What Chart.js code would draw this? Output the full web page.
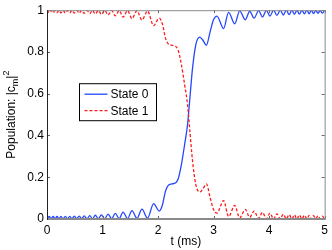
<!DOCTYPE html>
<html>
<head>
<meta charset="utf-8">
<script src="https://cdn.jsdelivr.net/npm/chart.js@4.4.0/dist/chart.umd.min.js"></script>
<style>
  html, body { margin: 0; padding: 0; background: #fff; }
</style>
</head>
<body>
<canvas id="popChart" width="332" height="250"></canvas>
<script>
// time axis (ms) at peaks / troughs
const tMs = [
  0, 0.04, 0.075, 0.11, 0.145, 0.18, 0.215, 0.25, 0.29, 0.33,
  0.37, 0.41, 0.45, 0.49, 0.535, 0.58, 0.625, 0.67, 0.72, 0.77,
  0.82, 0.87, 0.925, 0.98, 1.04, 1.10, 1.165, 1.23, 1.30, 1.37,
  1.45, 1.53, 1.62, 1.71, 1.81, 1.92, 2.02, 2.08, 2.13, 2.18,
  2.25, 2.31, 2.36, 2.42, 2.48, 2.53, 2.57, 2.62, 2.68, 2.75,
  2.81, 2.87, 2.94, 3.00, 3.06, 3.18, 3.27, 3.38, 3.47, 3.57,
  3.65, 3.73, 3.81, 3.88, 3.95, 4.015, 4.08, 4.14, 4.2, 4.255,
  4.31, 4.36, 4.41, 4.455, 4.5, 4.545, 4.59, 4.635, 4.68, 4.72,
  4.76, 4.80, 4.84, 4.88, 4.92, 4.955, 5.0
];

const state0 = [
  0.000, 0.012, 0.001, 0.012, 0.001, 0.012, 0.001, 0.013, 0.001, 0.013,
  0.001, 0.013, 0.001, 0.014, 0.001, 0.014, 0.001, 0.015, 0.001, 0.016,
  0.001, 0.018, 0.001, 0.020, 0.001, 0.023, 0.002, 0.027, 0.002, 0.033,
  0.002, 0.040, 0.003, 0.047, 0.004, 0.074, 0.038, 0.068, 0.130, 0.160,
  0.168, 0.172, 0.190, 0.26, 0.36, 0.45, 0.57, 0.72, 0.835, 0.871,
  0.855, 0.832, 0.90, 0.955, 0.972, 0.912, 0.990, 0.935, 0.997, 0.954,
  0.995, 0.962, 0.998, 0.968, 0.999, 0.972, 1.0, 0.975, 1.0, 0.977,
  1.0, 0.979, 1.0, 0.98, 1.0, 0.981, 1.0, 0.982, 1.0, 0.983,
  1.0, 0.984, 0.999, 0.985, 0.999, 0.986, 0.999
];

const state1 = [
  1.000, 0.988, 0.999, 0.988, 0.999, 0.988, 0.999, 0.987, 0.999, 0.987,
  0.999, 0.987, 0.999, 0.986, 0.999, 0.986, 0.999, 0.985, 0.999, 0.984,
  0.999, 0.982, 0.999, 0.980, 0.999, 0.977, 0.998, 0.973, 0.998, 0.967,
  0.998, 0.960, 0.997, 0.953, 0.996, 0.926, 0.962, 0.932, 0.870, 0.840,
  0.832, 0.828, 0.810, 0.74, 0.64, 0.55, 0.43, 0.28, 0.165, 0.129,
  0.145, 0.168, 0.10, 0.045, 0.028, 0.088, 0.012, 0.065, 0.005, 0.046,
  0.008, 0.038, 0.003, 0.032, 0.001, 0.028, 0.0, 0.025, 0.0, 0.023,
  0.0, 0.021, 0.0, 0.02, 0.0, 0.019, 0.0, 0.018, 0.0, 0.017,
  0.0, 0.016, 0.001, 0.015, 0.001, 0.014, 0.001
];

const xTicks = [0, 1, 2, 3, 4, 5];
const yTicks = [0, 0.2, 0.4, 0.6, 0.8, 1];
const seriesNames = ['State 0', 'State 1'];

const FONT = 'Liberation Sans, Arial, Helvetica, sans-serif';

// box, inward ticks, y title with sub/superscript, legend
const matlabLook = {
  id: 'matlabLook',
  afterDraw(chart) {
    const { ctx, chartArea: a, scales: { x, y } } = chart;
    ctx.save();

    // inward tick marks on all four sides
    ctx.strokeStyle = '#666';
    ctx.lineWidth = 1;
    ctx.beginPath();
    xTicks.forEach(v => {
      const px = Math.round(x.getPixelForValue(v)) + 0.5;
      ctx.moveTo(px, a.bottom); ctx.lineTo(px, a.bottom - 3);
      ctx.moveTo(px, a.top); ctx.lineTo(px, a.top + 3);
    });
    yTicks.forEach(v => {
      const py = Math.round(y.getPixelForValue(v)) + 0.5;
      ctx.moveTo(a.left, py); ctx.lineTo(a.left + 3, py);
      ctx.moveTo(a.right, py); ctx.lineTo(a.right - 3, py);
    });
    ctx.stroke();

    // frame
    ctx.strokeStyle = '#8a8a8a';
    ctx.beginPath();
    ctx.moveTo(a.left, a.top + 0.5); ctx.lineTo(a.right + 0.5, a.top + 0.5);
    ctx.lineTo(a.right + 0.5, a.bottom);
    ctx.stroke();
    ctx.lineWidth = 2;
    ctx.beginPath();
    ctx.moveTo(a.left, a.bottom); ctx.lineTo(a.right + 1, a.bottom);
    ctx.stroke();
    ctx.strokeStyle = '#222';
    ctx.lineWidth = 1;
    ctx.beginPath();
    ctx.moveTo(a.left + 0.5, a.top); ctx.lineTo(a.left + 0.5, a.bottom + 1);
    ctx.stroke();

    // y axis title: Population: |c_m|^2
    const big = '12px ' + FONT, small = '9px ' + FONT;
    const parts = [
      { s: 'Population: |c', f: big, dy: 0 },
      { s: 'm', f: small, dy: 3 },
      { s: '|', f: big, dy: 0 },
      { s: '2', f: small, dy: -6 }
    ];
    let total = 0;
    parts.forEach(p => { ctx.font = p.f; p.w = ctx.measureText(p.s).width; total += p.w; });
    ctx.translate(15, (a.top + a.bottom) / 2);
    ctx.rotate(-Math.PI / 2);
    ctx.fillStyle = '#000';
    ctx.textBaseline = 'alphabetic';
    let cx = -total / 2;
    parts.forEach(p => { ctx.font = p.f; ctx.fillText(p.s, cx, p.dy); cx += p.w; });
    ctx.setTransform(1, 0, 0, 1, 0, 0);

    // legend
    const lx = a.left + 32.5, ly = a.top + 73.5, lw = 77, lh = 37;
    ctx.fillStyle = '#fff';
    ctx.fillRect(lx, ly, lw, lh);
    ctx.strokeStyle = '#000';
    ctx.lineWidth = 1;
    ctx.strokeRect(lx, ly, lw, lh);
    ctx.font = '12px ' + FONT;
    ctx.textBaseline = 'middle';
    chart.data.datasets.forEach((ds, i) => {
      const rowY = ly + 10.5 + i * 16.5;
      ctx.strokeStyle = ds.borderColor;
      ctx.lineWidth = ds.borderWidth;
      ctx.setLineDash(ds.borderDash || []);
      ctx.beginPath();
      ctx.moveTo(lx + 5, rowY); ctx.lineTo(lx + 28, rowY);
      ctx.stroke();
      ctx.setLineDash([]);
      ctx.fillStyle = '#000';
      ctx.fillText(ds.label, lx + 31, rowY + 0.5);
    });
    ctx.restore();
  }
};

new Chart(document.getElementById('popChart'), {
  type: 'line',
  data: {
    datasets: [{
      label: seriesNames[0],
      data: tMs.map((t, i) => ({ x: t, y: state0[i] })),
      borderColor: '#2447ff',
      borderWidth: 1.3,
      pointRadius: 0,
      cubicInterpolationMode: 'monotone',
      fill: false,
      order: 1
    }, {
      label: seriesNames[1],
      data: tMs.map((t, i) => ({ x: t, y: state1[i] })),
      borderColor: '#ff1a1a',
      borderWidth: 1.3,
      borderDash: [3, 2],
      pointRadius: 0,
      cubicInterpolationMode: 'monotone',
      fill: false,
      order: 0
    }]
  },
  options: {
    responsive: false,
    animation: false,
    events: [],
    layout: { padding: { top: 7, right: 4, left: 0, bottom: 0 } },
    plugins: {
      legend: { display: false },
      tooltip: { enabled: false }
    },
    scales: {
      x: {
        type: 'linear',
        min: 0,
        max: 5,
        afterBuildTicks: s => { s.ticks = xTicks.map(v => ({ value: v })); },
        afterFit: s => { s.height = 31; },
        grid: { display: false, drawTicks: false },
        border: { display: false },
        ticks: { padding: 4, color: '#000', maxRotation: 0, font: { family: FONT, size: 12 } },
        title: { display: true, text: 't (ms)', color: '#000', padding: { top: 0, bottom: 1 }, font: { family: FONT, size: 12 } }
      },
      y: {
        type: 'linear',
        min: 0,
        max: 1,
        afterBuildTicks: s => { s.ticks = yTicks.map(v => ({ value: v })); },
        afterFit: s => { s.width = 47; },
        grid: { display: false, drawTicks: false },
        border: { display: false },
        ticks: { padding: 3, color: '#000', font: { family: FONT, size: 12 }, callback: v => String(+v.toFixed(1)) }
      }
    }
  },
  plugins: [matlabLook]
});
</script>
</body>
</html>
